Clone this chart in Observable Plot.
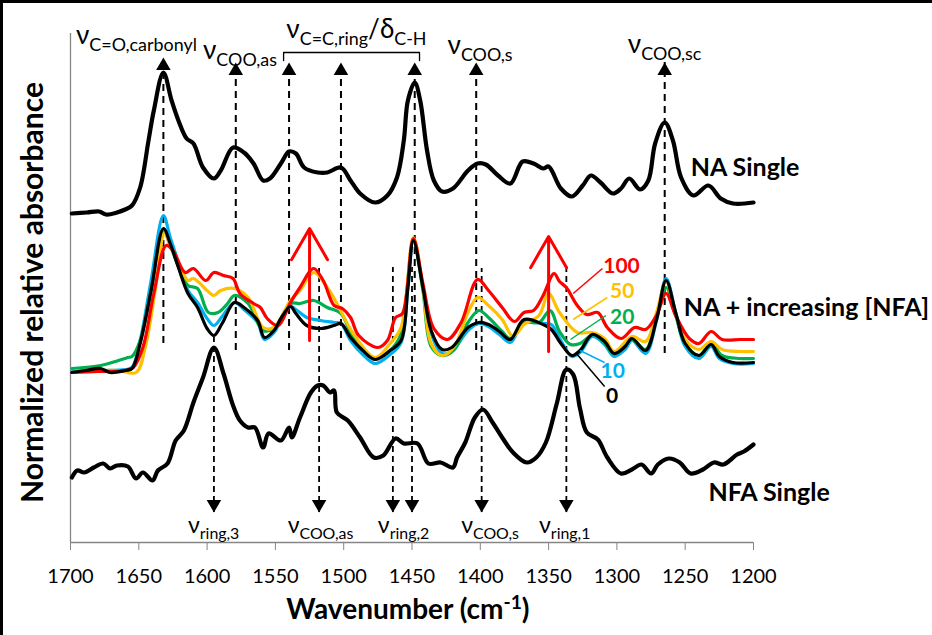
<!DOCTYPE html>
<html><head><meta charset="utf-8">
<script src="https://cdn.jsdelivr.net/npm/d3@7"></script>
<script src="https://cdn.jsdelivr.net/npm/@observablehq/plot@0.6"></script>
<style>
html,body{margin:0;padding:0;background:#fff;overflow:hidden;width:932px;height:635px;}
#wrap{position:relative;width:932px;height:635px;overflow:hidden;background:#fff;}
#chart svg{display:block;}
#bt{position:absolute;left:0;top:0;width:932px;height:3px;background:#000;}
#bl{position:absolute;left:0;top:0;width:3px;height:635px;background:#000;}
#br{position:absolute;right:0;top:3px;width:4px;height:632px;background:#fff;}
</style></head>
<body><div id="wrap"><div id="chart"></div><div id="bt"></div><div id="bl"></div><div id="br"></div></div>
<script>
// ---- data: [wavenumber (cm-1), normalized absorbance (offset)] ----
const naSingle = [[1699,3.29],[1688,3.30],[1679,3.31],[1674,3.28],[1666,3.30],[1660,3.33],[1655,3.37],[1649,3.55],[1643,4.01],[1639,4.32],[1632,4.70],[1626,4.42],[1621,4.22],[1615,4.04],[1610,3.99],[1603,3.75],[1595,3.64],[1590,3.72],[1581,3.95],[1573,3.90],[1566,3.79],[1559,3.62],[1554,3.64],[1546,3.79],[1540,3.91],[1535,3.89],[1529,3.75],[1519,3.70],[1512,3.70],[1502,3.75],[1495,3.62],[1488,3.49],[1477,3.40],[1468,3.47],[1461,3.65],[1456,4.02],[1453,4.42],[1448,4.60],[1444,4.42],[1439,3.92],[1434,3.62],[1428,3.51],[1420,3.54],[1409,3.72],[1402,3.79],[1396,3.78],[1387,3.67],[1378,3.59],[1369,3.81],[1361,3.79],[1354,3.74],[1350,3.76],[1341,3.54],[1333,3.46],[1325,3.57],[1319,3.67],[1312,3.60],[1303,3.49],[1297,3.54],[1291,3.64],[1283,3.53],[1277,3.62],[1272,3.99],[1265,4.20],[1259,4.02],[1253,3.65],[1244,3.47],[1233,3.57],[1224,3.44],[1215,3.39],[1200,3.40]];

const mix0 = [[1699,1.70],[1689,1.72],[1678,1.74],[1671,1.70],[1660,1.72],[1655,1.74],[1649,1.99],[1641,2.52],[1632,3.14],[1627,2.99],[1621,2.75],[1614,2.49],[1607,2.35],[1600,2.14],[1595,2.07],[1589,2.19],[1580,2.40],[1573,2.35],[1563,2.22],[1558,2.05],[1551,2.12],[1546,2.24],[1539,2.36],[1535,2.29],[1527,2.17],[1517,2.14],[1507,2.17],[1502,2.19],[1495,2.05],[1486,1.92],[1477,1.83],[1466,1.92],[1458,2.02],[1453,2.55],[1449,3.02],[1442,2.55],[1436,2.12],[1428,1.93],[1421,1.95],[1409,2.15],[1401,2.20],[1394,2.18],[1386,2.11],[1378,2.03],[1368,2.23],[1354,2.18],[1348,2.13],[1341,1.99],[1333,1.87],[1327,1.92],[1318,2.08],[1309,2.01],[1302,1.89],[1294,1.96],[1289,2.04],[1279,1.92],[1271,2.23],[1264,2.62],[1257,2.30],[1250,1.99],[1240,1.87],[1231,1.98],[1225,1.86],[1215,1.80],[1200,1.80]];

const mix10 = [[1699,1.71],[1688,1.72],[1675,1.72],[1660,1.73],[1655,1.75],[1649,2.02],[1641,2.62],[1632,3.27],[1627,3.05],[1621,2.80],[1614,2.52],[1607,2.40],[1600,2.24],[1595,2.17],[1589,2.26],[1580,2.40],[1573,2.33],[1563,2.20],[1558,2.03],[1551,2.10],[1546,2.22],[1539,2.36],[1535,2.33],[1527,2.25],[1517,2.22],[1507,2.20],[1502,2.19],[1495,2.02],[1486,1.88],[1477,1.79],[1466,1.88],[1458,2.00],[1453,2.55],[1449,3.02],[1442,2.55],[1436,2.09],[1428,1.89],[1421,1.91],[1409,2.12],[1401,2.19],[1394,2.16],[1386,2.08],[1378,2.00],[1368,2.21],[1354,2.19],[1348,2.18],[1341,2.02],[1333,1.86],[1327,1.90],[1318,2.06],[1309,1.98],[1302,1.86],[1294,1.93],[1289,2.02],[1279,1.89],[1271,2.22],[1264,2.64],[1257,2.30],[1250,1.96],[1240,1.84],[1231,1.96],[1225,1.84],[1215,1.79],[1200,1.79]];

const mix20 = [[1699,1.74],[1678,1.77],[1667,1.81],[1658,1.85],[1655,1.86],[1649,2.02],[1641,2.52],[1632,3.12],[1627,2.97],[1621,2.76],[1614,2.57],[1607,2.54],[1599,2.30],[1592,2.30],[1585,2.39],[1580,2.47],[1570,2.39],[1559,2.12],[1551,2.14],[1539,2.39],[1532,2.39],[1522,2.42],[1512,2.35],[1502,2.29],[1493,2.05],[1477,1.84],[1464,1.95],[1458,2.09],[1449,3.02],[1442,2.52],[1436,1.96],[1428,1.87],[1419,1.93],[1409,2.20],[1401,2.32],[1394,2.25],[1384,2.11],[1378,2.04],[1368,2.20],[1357,2.20],[1349,2.32],[1342,2.11],[1334,1.98],[1327,1.99],[1317,2.08],[1309,1.99],[1302,1.89],[1289,2.03],[1279,1.93],[1271,2.24],[1264,2.55],[1257,2.27],[1250,1.99],[1240,1.87],[1231,1.99],[1223,1.87],[1210,1.84],[1200,1.84]];

const mix50 = [[1699,1.70],[1680,1.72],[1665,1.72],[1652,1.70],[1645,1.97],[1638,2.52],[1631,3.10],[1627,2.97],[1621,2.80],[1614,2.62],[1610,2.64],[1600,2.52],[1595,2.47],[1590,2.52],[1580,2.54],[1570,2.45],[1559,2.15],[1551,2.15],[1539,2.42],[1532,2.52],[1522,2.70],[1512,2.55],[1505,2.39],[1493,2.09],[1477,1.85],[1466,1.99],[1458,2.15],[1449,3.05],[1442,2.55],[1436,1.99],[1428,1.87],[1419,1.96],[1409,2.30],[1402,2.45],[1394,2.37],[1384,2.23],[1376,2.06],[1368,2.18],[1357,2.27],[1350,2.49],[1342,2.30],[1329,2.10],[1318,2.10],[1309,2.04],[1302,1.91],[1289,2.06],[1279,2.01],[1271,2.30],[1264,2.61],[1257,2.28],[1250,2.03],[1240,1.93],[1231,2.01],[1223,1.93],[1210,1.91],[1200,1.91]];

const mix100 = [[1699,1.70],[1680,1.71],[1660,1.72],[1654,1.75],[1647,1.95],[1639,2.49],[1630,2.97],[1625,2.92],[1616,2.70],[1610,2.74],[1601,2.62],[1595,2.70],[1588,2.67],[1581,2.64],[1576,2.49],[1566,2.39],[1561,2.35],[1556,2.24],[1548,2.17],[1539,2.40],[1532,2.55],[1522,2.74],[1515,2.62],[1507,2.37],[1501,2.34],[1495,2.25],[1489,2.07],[1475,1.95],[1468,2.02],[1462,2.25],[1457,2.29],[1449,3.04],[1442,2.59],[1434,2.14],[1424,2.03],[1414,2.20],[1402,2.63],[1394,2.52],[1384,2.35],[1375,2.21],[1368,2.30],[1361,2.32],[1354,2.47],[1346,2.69],[1342,2.61],[1337,2.55],[1329,2.37],[1322,2.28],[1314,2.30],[1307,2.15],[1297,2.04],[1287,2.15],[1279,2.13],[1271,2.27],[1264,2.49],[1257,2.27],[1247,2.04],[1240,1.99],[1231,2.11],[1223,2.03],[1210,2.03],[1200,2.03]];

const nfaSingle = [[1699,0.65],[1695,0.72],[1690,0.70],[1683,0.75],[1676,0.79],[1671,0.74],[1666,0.77],[1658,0.76],[1652,0.64],[1647,0.70],[1640,0.62],[1636,0.72],[1629,0.79],[1623,1.02],[1617,1.12],[1610,1.40],[1603,1.65],[1595,1.95],[1588,1.69],[1581,1.37],[1576,1.22],[1570,1.15],[1565,1.15],[1559,0.95],[1555,1.09],[1546,1.02],[1540,1.15],[1538,1.05],[1532,1.25],[1524,1.50],[1519,1.57],[1515,1.57],[1510,1.50],[1507,1.52],[1505,1.30],[1497,1.22],[1488,1.05],[1478,0.85],[1471,0.87],[1462,1.04],[1456,0.99],[1446,0.99],[1438,0.79],[1429,0.80],[1420,0.75],[1417,0.85],[1411,1.00],[1404,1.25],[1398,1.33],[1391,1.20],[1384,1.05],[1376,0.90],[1366,0.80],[1359,0.85],[1352,1.00],[1344,1.39],[1337,1.73],[1332,1.68],[1327,1.34],[1322,1.10],[1314,1.03],[1307,0.85],[1297,0.69],[1289,0.73],[1282,0.78],[1275,0.69],[1270,0.78],[1262,0.84],[1254,0.80],[1246,0.69],[1237,0.73],[1229,0.80],[1222,0.78],[1212,0.88],[1207,0.91],[1200,0.98]];

const xTicks = [1700,1650,1600,1550,1500,1450,1400,1350,1300,1250,1200];

// NFA concentrations and colours
const concLabels = ["0","10","20","50","100"];
const concColors = ["#000000","#00b0f0","#00b050","#ffc000","#ff0000"];

// band assignment arrows (wavenumber, from, to)
const upArrowW  = [1632,1579,1540,1502,1448,1403,1265];
const upArrowLo = [1.99,1.92,1.92,1.92,1.92,1.92,1.89];
const upArrowHi = [4.85,4.80,4.80,4.80,4.80,4.80,4.80];
const downArrowW  = [1595,1518,1464,1450,1399,1337];
const downArrowHi = [2.05,2.74,2.75,2.75,2.74,2.76];
const downArrowLo = [0.30,0.30,0.30,0.30,0.30,0.30];
const redArrowW  = [1525,1350];
const redArrowLo = [2.02,1.91];
const redArrowHi = [3.14,3.06];

const topLabelText = ["ν_{C=O,carbonyl}","ν_{COO,as}","ν_{C=C,ring}/δ_{C-H}","ν_{COO,s}","ν_{COO,sc}"];
const topLabelW = [1696,1603,1542,1424,1292];
const topLabelA = [4.99,4.84,5.05,4.89,4.90];
const botLabelText = ["ν_{ring,3}","ν_{COO,as}","ν_{ring,2}","ν_{COO,s}","ν_{ring,1}"];
const botLabelW = [1614,1541,1475,1414,1357];
const bracketW = [1544,1544,1444.5,1444.5];
const bracketA = [4.82,4.90,4.90,4.82];

const seriesLabelText = ["NA Single","NA + increasing [NFA]","NFA Single"];
const seriesLabelW = [1246,1251,1233];
const seriesLabelA = [3.75,2.35,0.50];

const concLabelW = [1308,1312,1305,1305,1310];
const concLabelA = [1.46,1.71,2.25,2.51,2.76];
const leaderFrom = [[1309,1.56],[1309,1.80],[1308,2.27],[1307,2.45],[1310.6,2.74]];
const leaderTo   = [[1329,1.88],[1327,1.92],[1334,2.03],[1332,2.23],[1332,2.49]];

// ---- build ----
const toRows = arr => arr.map(([w,a]) => ({w,a}));
const mixes = [mix0, mix10, mix20, mix50, mix100];
const drawOrder = [1,2,3,4,0];
const F = "Lato, 'Open Sans', 'DejaVu Sans', sans-serif";

const upArrows = upArrowW.map((w,i)=>({w, lo:upArrowLo[i], hi:upArrowHi[i]}));
const downArrows = downArrowW.map((w,i)=>({w, lo:downArrowLo[i], hi:downArrowHi[i]}));
const redArrows = redArrowW.map((w,i)=>({w, lo:redArrowLo[i], hi:redArrowHi[i]}));
const topLabels = topLabelText.map((t,i)=>({t, w:topLabelW[i], a:topLabelA[i]}));
const botLabels = botLabelText.map((t,i)=>({t, w:botLabelW[i], a:0.10}));
const bracket = bracketW.map((w,i)=>({w, a:bracketA[i]}));
const seriesLabels = seriesLabelText.map((t,i)=>({t, w:seriesLabelW[i], a:seriesLabelA[i]}));
const concText = concLabels.map((t,i)=>({t, w:concLabelW[i], a:concLabelA[i], c:concColors[i]}));
const leaders = leaderFrom.map((f,i)=>({x1:f[0], y1:f[1], x2:leaderTo[i][0], y2:leaderTo[i][1], c:concColors[i]}));

const marks = [
  Plot.ruleY([0], {stroke:"#868686", strokeWidth:1.3}),
  Plot.ruleX([1700], {stroke:"#868686", strokeWidth:1.3}),
  Plot.axisX({ticks:xTicks, tickFormat:d=>String(d), tickSize:8, tickPadding:18, fontSize:20, stroke:"#868686", fill:"black", label:null}),
  Plot.ruleX(upArrows, {x:"w", y1:"lo", y2:"hi", stroke:"black", strokeWidth:2, strokeDasharray:"7,5"}),
  Plot.dot(upArrows, {x:"w", y:"hi", symbol:"triangle", r:5.4, fill:"black", dy:8.4}),
  Plot.ruleX(downArrows, {x:"w", y1:"lo", y2:"hi", stroke:"black", strokeWidth:1.8, strokeDasharray:"6,4"}),
  Plot.dot(downArrows, {x:"w", y:"lo", symbol:"triangle", r:5.4, fill:"black", rotate:180, dy:-8.4}),
  Plot.line(bracket, {x:"w", y:"a", stroke:"black", strokeWidth:1.3}),
  Plot.line(toRows(naSingle), {x:"w", y:"a", stroke:"black", strokeWidth:4.2, curve:"catmull-rom", strokeLinejoin:"round"}),
  Plot.line(toRows(nfaSingle), {x:"w", y:"a", stroke:"black", strokeWidth:4.2, curve:"catmull-rom", strokeLinejoin:"round"}),
  ...drawOrder.map(i => Plot.line(toRows(mixes[i]), {x:"w", y:"a", stroke:concColors[i], strokeWidth:3.2, curve:"catmull-rom", strokeLinejoin:"round"})),
  Plot.link(leaders, {x1:"x1", y1:"y1", x2:"x2", y2:"y2", stroke:"c", strokeWidth:1.5}),
  Plot.arrow(redArrows, {x1:"w", x2:"w", y1:"lo", y2:"hi", stroke:"#ff0000", strokeWidth:3, headLength:18, headAngle:60}),
  Plot.text(topLabels, {x:"w", y:"a", text:"t", textAnchor:"start", lineAnchor:"bottom", fontSize:26, fill:"black"}),
  Plot.text(botLabels, {x:"w", y:"a", text:"t", textAnchor:"start", lineAnchor:"bottom", fontSize:23, fill:"black"}),
  Plot.text(seriesLabels, {x:"w", y:"a", text:"t", textAnchor:"start", fontSize:25, fontWeight:"bold", fill:"black"}),
  Plot.text(concText, {x:"w", y:"a", text:"t", textAnchor:"start", fontSize:21, fontWeight:"bold", fill:"c"}),
  Plot.text(["Wavenumber (cm^{-1})"], {x:1453, y:-0.68, text:d=>d, fontSize:28, fontWeight:"bold", fill:"black"}),
  Plot.text(["Normalized relative absorbance"], {x:1727, y:2.50, text:d=>d, rotate:-90, fontSize:30, fontWeight:"bold", fill:"black"})
];

const chart = Plot.plot({
  width:932, height:635,
  marginLeft:70, marginRight:179, marginTop:33, marginBottom:93,
  x:{domain:[1700,1200]},
  y:{domain:[0,5.09], axis:null},
  style:{fontFamily:F, fontSize:"20px", color:"black", background:"white", overflow:"visible"},
  marks
});
document.getElementById("chart").appendChild(chart);

// rich text: _{sub} and ^{sup}
chart.querySelectorAll("text").forEach(t => {
  const s = t.textContent;
  if (!/[_^]\{/.test(s)) return;
  const fs = parseFloat(getComputedStyle(t).fontSize) || 20;
  const parts = []; const re = /([_^])\{([^}]*)\}/g; let last = 0, m;
  while ((m = re.exec(s))) {
    if (m.index > last) parts.push({t:s.slice(last, m.index)});
    parts.push({t:m[2], k:m[1]});
    last = re.lastIndex;
  }
  if (last < s.length) parts.push({t:s.slice(last)});
  t.textContent = "";
  let shift = 0;
  for (const p of parts) {
    const ts = document.createElementNS("http://www.w3.org/2000/svg","tspan");
    const target = p.k === "_" ? 0.27*fs : p.k === "^" ? -0.38*fs : 0;
    if (target - shift !== 0) ts.setAttribute("dy", (target - shift).toFixed(2));
    shift = target;
    if (p.k) ts.setAttribute("font-size", (0.69*fs).toFixed(1));
    ts.textContent = p.t;
    t.appendChild(ts);
  }
});
</script></body></html>
